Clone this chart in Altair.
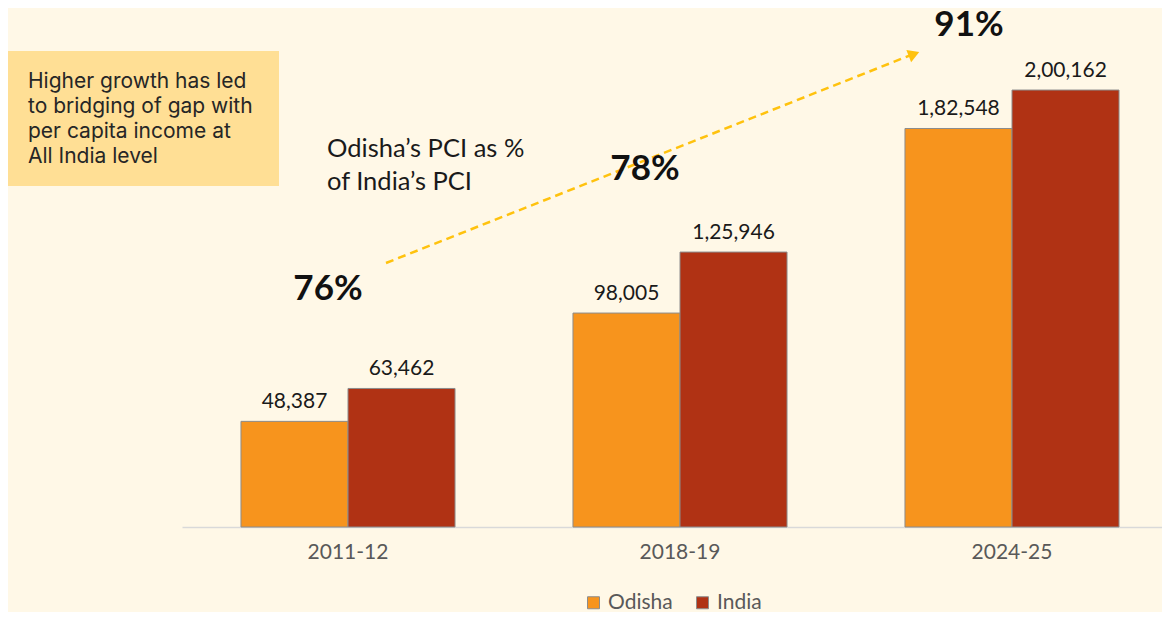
import altair as alt
import pandas as pd

years = ["2011-12", "2018-19", "2024-25"]
regions = ["Odisha", "India"]
odisha = [48387, 98005, 182548]
india = [63462, 125946, 200162]
pcts = [76, 78, 91]
note_lines = ["Higher growth has led", "to bridging of gap with", "per capita income at", "All India level"]
pci_lines = ["Odisha\u2019s PCI as %", "of India\u2019s PCI"]

colors = ["#F7941D", "#B03214"]
BG = "#FFF8E7"


def inr(n):
    s = str(n)
    if len(s) <= 3:
        return s
    last3, rest = s[-3:], s[:-3]
    groups = []
    while len(rest) > 2:
        groups.insert(0, rest[-2:])
        rest = rest[:-2]
    if rest:
        groups.insert(0, rest)
    return ",".join(groups + [last3])


rows = []
for i, y in enumerate(years):
    for r, vals in zip(regions, [odisha, india]):
        rows.append({"year": y, "region": r, "value": vals[i], "label": inr(vals[i])})
df = pd.DataFrame(rows)

W, H = 1154, 604
x_scale = alt.Scale(domain=years, range=[174, 1170], paddingInner=0, paddingOuter=0)
y_scale = alt.Scale(domain=[-38937, 237746], nice=False, zero=False)
xo_scale = alt.Scale(domain=regions, paddingOuter=0.551, paddingInner=0)

base = alt.Chart(df)

bars = base.mark_bar(stroke="#8C8C8C", strokeWidth=1).encode(
    x=alt.X("year:N", scale=x_scale, sort=years,
            axis=alt.Axis(title=None, orient="bottom", offset=-85, domainColor="#D9D9D9",
                          domainWidth=1.5, ticks=False, labelPadding=14, labelFontSize=21,
                          labelFont="Lato", labelColor="#595959", labelAngle=0, grid=False)),
    xOffset=alt.XOffset("region:N", scale=xo_scale, sort=regions),
    y=alt.Y("value:Q", scale=y_scale, axis=None),
    fill=alt.Fill("region:N", sort=regions,
                  scale=alt.Scale(domain=regions, range=colors),
                  legend=alt.Legend(title=None, orient="none", legendX=575, legendY=584,
                                    direction="horizontal", symbolType="square",
                                    symbolSize=144, symbolStrokeColor="#8C8C8C",
                                    symbolStrokeWidth=1, symbolOpacity=1,
                                    labelFontSize=21, labelFont="Lato", labelColor="#595959",
                                    labelOffset=4, columnPadding=19, padding=0)),
)

labels = base.mark_text(font="Lato", fontSize=21, color="#1A1A1A", baseline="alphabetic",
                        align="center", dy=-13).encode(
    x=alt.X("year:N", scale=x_scale, sort=years),
    xOffset=alt.XOffset("region:N", scale=xo_scale, sort=regions),
    y=alt.Y("value:Q", scale=y_scale),
    text="label:N",
)

one = alt.Data(values=[{"a": 1}])

note_box = alt.Chart(one).mark_rect(color="#FFDF95").encode(
    x=alt.value(0), x2=alt.value(271), y=alt.value(43), y2=alt.value(178))
note_text = alt.Chart(one).mark_text(font="Inter", fontSize=21, color="#262626", align="left",
                                     baseline="alphabetic", lineHeight=25).encode(
    x=alt.value(20), y=alt.value(80), text=alt.value(note_lines))

pci_text = alt.Chart(one).mark_text(font="Lato", fontSize=25.5, color="#1A1A1A", align="left",
                                    baseline="alphabetic", lineHeight=33).encode(
    x=alt.value(319), y=alt.value(149), text=alt.value(pci_lines))

arrow_line = alt.Chart(one).mark_rule(color="#FFC20E", strokeWidth=2.5, strokeDash=[8, 5]).encode(
    x=alt.value(378), y=alt.value(255), x2=alt.value(903), y2=alt.value(47))
arrow_head = alt.Chart(one).mark_point(shape="triangle-up", filled=True, color="#FFC20E",
                                       size=170, angle=68.4, opacity=1).encode(
    x=alt.value(906), y=alt.value(46))

pct_pos = [(320, 292), (637, 172), (961, 28)]
pct_layers = []
for p, (px, py) in zip(pcts, pct_pos):
    pct_layers.append(
        alt.Chart(one).mark_text(font="Lato", fontSize=35, fontWeight="bold", color="#111111",
                                 align="center", baseline="alphabetic").encode(
            x=alt.value(px), y=alt.value(py), text=alt.value(f"{p}%")))

chart = alt.layer(note_box, note_text, pci_text, arrow_line, arrow_head, bars, labels,
                  *pct_layers).properties(
    width=W, height=H, autosize=alt.AutoSizeParams(type="none"), padding=0,
    background=BG,
).configure_view(stroke=None)

chart.save("out.html", embed_options={"renderer": "svg", "actions": False})
